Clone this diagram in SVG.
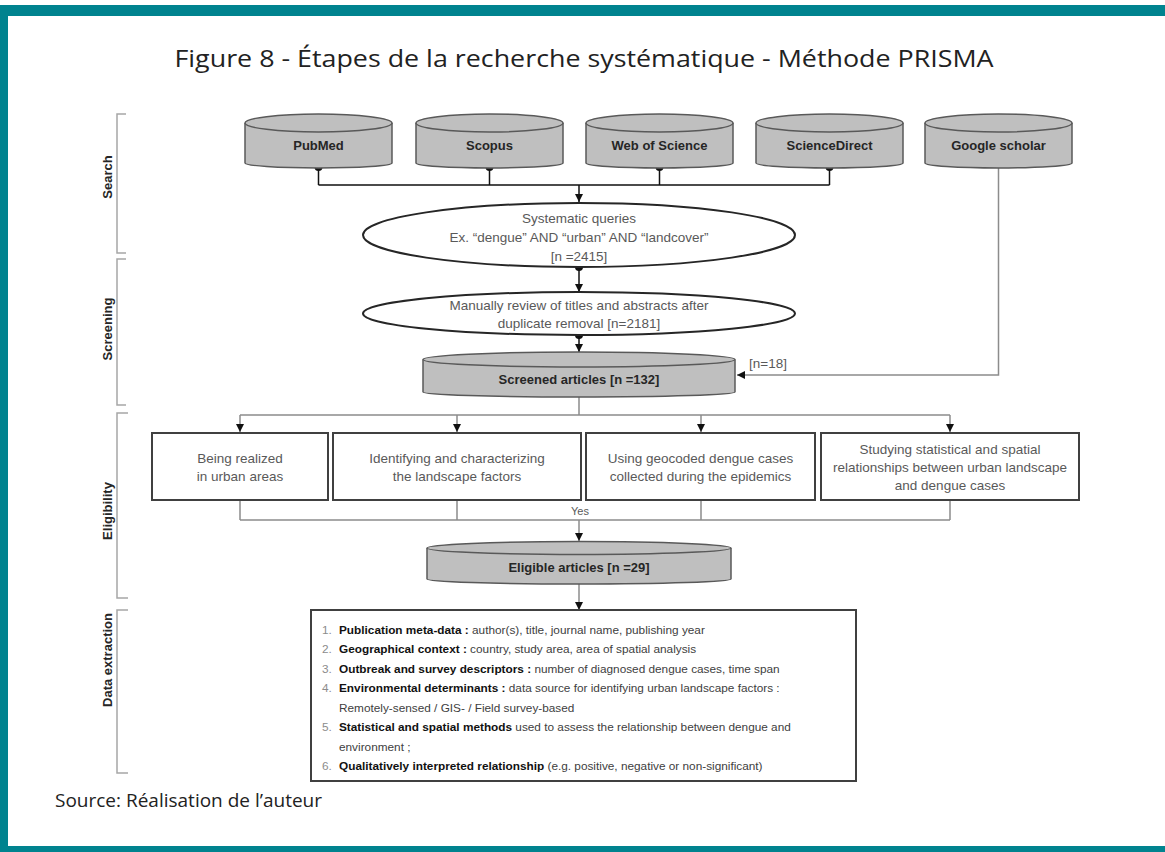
<svg xmlns="http://www.w3.org/2000/svg" width="1165" height="852" viewBox="0 0 1165 852">
  <style>
    .title { font-family: "Open Sans", "Noto Sans", sans-serif; font-size: 24px; fill: #222; }
    .source { font-family: "Open Sans", "Noto Sans", sans-serif; font-size: 18px; fill: #222; }
    .phase { font-family: "Liberation Sans", Arial, sans-serif; font-size: 13px; font-weight: bold; fill: #262626; text-anchor: middle; }
    .bracket { fill: none; stroke: #a6a6a6; stroke-width: 1.5; }
    .db { fill: #bfbfbf; stroke: #595959; stroke-width: 1.5; }
    .dbtxt { font-family: "Liberation Sans", Arial, sans-serif; font-size: 13px; font-weight: bold; fill: #262626; text-anchor: middle; }
    .oval { fill: #fff; stroke: #262626; stroke-width: 2; }
    .txt { font-family: "Liberation Sans", Arial, sans-serif; font-size: 13.5px; fill: #595959; text-anchor: middle; }
    .small { font-family: "Liberation Sans", Arial, sans-serif; font-size: 11px; fill: #595959; text-anchor: middle; }
    .box { fill: #fff; stroke: #404040; stroke-width: 2; }
    .dark { fill: none; stroke: #111; stroke-width: 1.5; }
    .grey { fill: none; stroke: #8c8c8c; stroke-width: 1.5; }
    .dot { fill: #111; }
    .list { font-family: "Liberation Sans", Arial, sans-serif; font-size: 11.8px; fill: #404040; }
    .num { fill: #8c8c8c; }
    .lbl { font-weight: bold; fill: #111; }
  </style>
  <defs>
    <marker id="arr" viewBox="0 0 8 8" refX="8" refY="4" markerWidth="8" markerHeight="8" markerUnits="userSpaceOnUse" orient="auto">
      <path d="M0,0 L8,4 L0,8 z" fill="#111"/>
    </marker>
  </defs>

  <!-- frame -->
  <rect x="0" y="0" width="1165" height="852" fill="#fff"/>
  <rect x="0" y="5" width="1165" height="11" fill="#00838f"/>
  <rect x="0" y="5" width="8" height="847" fill="#00838f"/>
  <rect x="0" y="846" width="1165" height="6" fill="#00838f"/>

  <text class="title" x="584" y="67" text-anchor="middle" textLength="819" lengthAdjust="spacingAndGlyphs">Figure 8 - Étapes de la recherche systématique - Méthode PRISMA</text>

  <!-- phase brackets -->
  <g id="phases">
    <path class="bracket" d="M126,114 H117 V253 H126"/>
    <path class="bracket" d="M126,259 H117 V405 H126"/>
    <path class="bracket" d="M128,413 H117 V598 H128"/>
    <path class="bracket" d="M128,610 H117 V773 H128"/>
    <text class="phase" transform="translate(112,177) rotate(-90)">Search</text>
    <text class="phase" transform="translate(112,329) rotate(-90)">Screening</text>
    <text class="phase" transform="translate(112,511) rotate(-90)">Eligibility</text>
    <text class="phase" transform="translate(112,660) rotate(-90)">Data extraction</text>
  </g>

  <!-- connectors -->
  <g id="connectors">
    <path class="dark" d="M318.5,167 V185 M489.5,167 V185 M659.5,167 V185 M829.5,167 V185 M318.5,185 H829.5"/>
    <circle class="dot" cx="318.5" cy="167" r="4"/>
    <circle class="dot" cx="489.5" cy="167" r="4"/>
    <circle class="dot" cx="659.5" cy="167" r="4"/>
    <circle class="dot" cx="829.5" cy="167" r="4"/>
    <path class="dark" d="M579,185 V202" marker-end="url(#arr)"/>
    <circle class="dot" cx="579" cy="267" r="4"/>
    <path class="dark" d="M579,267 V292" marker-end="url(#arr)"/>
    <circle class="dot" cx="579" cy="335" r="4"/>
    <path class="dark" d="M579,335 V352" marker-end="url(#arr)"/>
    <path class="grey" d="M998.5,168 V375 H737" marker-end="url(#arr)"/>
    <text class="txt" x="749" y="368" style="text-anchor:start">[n=18]</text>
    <path class="grey" d="M579,397 V415 M240,415 H950"/>
    <path class="grey" d="M240,415 V432" marker-end="url(#arr)"/>
    <path class="grey" d="M457,415 V432" marker-end="url(#arr)"/>
    <path class="grey" d="M701,415 V432" marker-end="url(#arr)"/>
    <path class="grey" d="M950,415 V432" marker-end="url(#arr)"/>
    <path class="grey" d="M240,500 V520 M457,500 V520 M701,500 V520 M950,500 V520 M240,520 H950"/>
    <text class="small" x="580" y="515">Yes</text>
    <path class="grey" d="M579,520 V541" marker-end="url(#arr)"/>
    <path class="grey" d="M579,584 V610" marker-end="url(#arr)"/>
  </g>

  <!-- databases -->
  <g id="pubmed">
    <path class="db" d="M245,123 V163 A73.5,5 0 0 0 392,163 V123"/>
    <ellipse class="db" cx="318.5" cy="123" rx="73.5" ry="9"/>
    <text class="dbtxt" x="318.5" y="150">PubMed</text>
  </g>
  <g id="scopus">
    <path class="db" d="M416,123 V163 A73.5,5 0 0 0 563,163 V123"/>
    <ellipse class="db" cx="489.5" cy="123" rx="73.5" ry="9"/>
    <text class="dbtxt" x="489.5" y="150">Scopus</text>
  </g>
  <g id="wos">
    <path class="db" d="M586,123 V163 A73.5,5 0 0 0 733,163 V123"/>
    <ellipse class="db" cx="659.5" cy="123" rx="73.5" ry="9"/>
    <text class="dbtxt" x="659.5" y="150">Web of Science</text>
  </g>
  <g id="sciencedirect">
    <path class="db" d="M756,123 V163 A73.5,5 0 0 0 903,163 V123"/>
    <ellipse class="db" cx="829.5" cy="123" rx="73.5" ry="9"/>
    <text class="dbtxt" x="829.5" y="150">ScienceDirect</text>
  </g>
  <g id="scholar">
    <path class="db" d="M925,123 V163 A73.5,5 0 0 0 1072,163 V123"/>
    <ellipse class="db" cx="998.5" cy="123" rx="73.5" ry="9"/>
    <text class="dbtxt" x="998.5" y="150">Google scholar</text>
  </g>

  <!-- search and screening steps -->
  <g id="queries">
    <ellipse class="oval" cx="579" cy="235" rx="216" ry="32"/>
    <text class="txt" x="579" y="222.5">Systematic queries</text>
    <text class="txt" x="579" y="241.5">Ex. “dengue” AND “urban” AND “landcover”</text>
    <text class="txt" x="579" y="260.5">[n =2415]</text>
  </g>
  <g id="review">
    <ellipse class="oval" cx="579" cy="313.5" rx="216" ry="21.5"/>
    <text class="txt" x="579" y="309.5">Manually review of titles and abstracts after</text>
    <text class="txt" x="579" y="327.5">duplicate removal [n=2181]</text>
  </g>
  <g id="screened">
    <path class="db" d="M423,359.5 V392 A156,5 0 0 0 735,392 V359.5"/>
    <ellipse class="db" cx="579" cy="359.5" rx="156" ry="7.5"/>
    <text class="dbtxt" x="579" y="384">Screened articles [n =132]</text>
  </g>

  <!-- eligibility criteria -->
  <g id="crit-urban">
    <rect class="box" x="152" y="433" width="176" height="67"/>
    <text class="txt" x="240" y="463">Being realized</text>
    <text class="txt" x="240" y="481">in urban areas</text>
  </g>
  <g id="crit-landscape">
    <rect class="box" x="333" y="433" width="248" height="67"/>
    <text class="txt" x="457" y="463">Identifying and characterizing</text>
    <text class="txt" x="457" y="481">the landscape factors</text>
  </g>
  <g id="crit-cases">
    <rect class="box" x="586" y="433" width="229" height="67"/>
    <text class="txt" x="700.5" y="463">Using geocoded dengue cases</text>
    <text class="txt" x="700.5" y="481">collected during the epidemics</text>
  </g>
  <g id="crit-relationships">
    <rect class="box" x="821" y="433" width="258" height="67"/>
    <text class="txt" x="950" y="454">Studying statistical and spatial</text>
    <text class="txt" x="950" y="472">relationships between urban landscape</text>
    <text class="txt" x="950" y="490">and dengue cases</text>
  </g>
  <g id="eligible">
    <path class="db" d="M427,548 V579 A152,5 0 0 0 731,579 V548"/>
    <ellipse class="db" cx="579" cy="548" rx="152" ry="6.5"/>
    <text class="dbtxt" x="579" y="572">Eligible articles [n =29]</text>
  </g>

  <!-- data extraction -->
  <g id="extraction">
    <rect class="box" x="311" y="610" width="545" height="171"/>
    <text class="list" x="322" y="633.5"><tspan class="num">1.</tspan><tspan x="339" class="lbl">Publication meta-data : </tspan>author(s), title, journal name, publishing year</text>
    <text class="list" x="322" y="653"><tspan class="num">2.</tspan><tspan x="339" class="lbl">Geographical context : </tspan>country, study area, area of spatial analysis</text>
    <text class="list" x="322" y="672.5"><tspan class="num">3.</tspan><tspan x="339" class="lbl">Outbreak and survey descriptors : </tspan>number of diagnosed dengue cases, time span</text>
    <text class="list" x="322" y="692"><tspan class="num">4.</tspan><tspan x="339" class="lbl">Environmental determinants : </tspan>data source for identifying urban landscape factors :</text>
    <text class="list" x="339" y="711.5">Remotely-sensed / GIS- / Field survey-based</text>
    <text class="list" x="322" y="731"><tspan class="num">5.</tspan><tspan x="339" class="lbl">Statistical and spatial methods </tspan>used to assess the relationship between  dengue and</text>
    <text class="list" x="339" y="750.5">environment ;</text>
    <text class="list" x="322" y="770"><tspan class="num">6.</tspan><tspan x="339" class="lbl">Qualitatively interpreted relationship </tspan>(e.g. positive, negative or non-significant)</text>
  </g>

  <text class="source" x="55" y="807" textLength="267" lengthAdjust="spacingAndGlyphs">Source: Réalisation de l’auteur</text>
</svg>
